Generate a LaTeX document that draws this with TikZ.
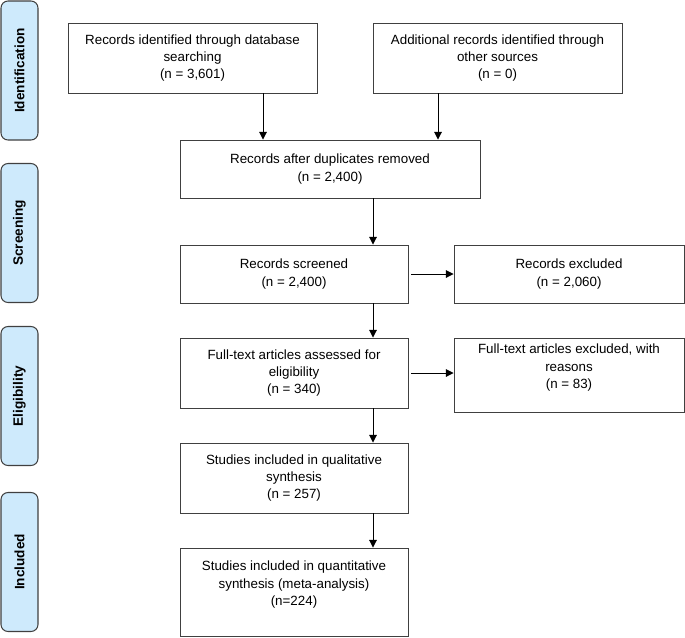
\documentclass[tikz,border=0pt]{standalone}
\usepackage{fontspec}
\setmainfont{Liberation Sans}
\usetikzlibrary{arrows.meta}

\definecolor{phasefill}{RGB}{206,234,252}
\definecolor{edgegray}{RGB}{64,64,64}

\begin{document}
\begin{tikzpicture}[x=0.03cm,y=-0.03cm,
	box/.style={draw=edgegray,line width=0.8pt,align=center,inner sep=0pt,
		font=\fontsize{11.4}{14.8}\selectfont},
	phase/.style={draw=edgegray,line width=0.9pt,fill=phasefill,rounded corners=6pt,
		rotate=90,minimum width=139*0.03cm,minimum height=37*0.03cm,inner sep=0pt,
		font=\fontsize{11.6}{14.5}\selectfont\bfseries},
	arr/.style={line width=0.8pt,-{Triangle[length=6.5pt,width=6.5pt]}}]
	
	\useasboundingbox (0,0) rectangle (685,637);
	
	% phases on the left
	\node[phase] (idn) at (19.5,70.5) {Identification};
	\node[phase] (scr) at (19.5,233) {Screening};
	\node[phase] (elg) at (19.5,396) {Eligibility};
	\node[phase] (inc) at (19.5,562) {Included};
	
	% boxes
	\node[box,minimum width=249*0.03cm,minimum height=70*0.03cm] (db) at (192.5,58)
		{Records identified through database\\searching\\(n = 3,601)};
	\node[box,minimum width=249*0.03cm,minimum height=70*0.03cm] (other) at (497.5,58)
		{Additional records identified through\\other sources\\(n = 0)};
	\node[box,minimum width=300*0.03cm,minimum height=58*0.03cm] (dup) at (330,169)
		{Records after duplicates removed\\(n = 2,400)};
	\node[box,minimum width=228*0.03cm,minimum height=58*0.03cm] (screened) at (294,274)
		{Records screened\\(n = 2,400)};
	\node[box,minimum width=230*0.03cm,minimum height=58*0.03cm] (excl) at (569,274)
		{Records excluded\\(n = 2,060)};
	\node[box,minimum width=228*0.03cm,minimum height=70*0.03cm] (fulltext) at (294,373)
		{Full-text articles assessed for\\eligibility\\(n = 340)};
	\node[box,minimum width=230*0.03cm,minimum height=74*0.03cm] (ftexcl) at (569,375)
		{Full-text articles excluded, with\\reasons\\(n = 83)\\\mbox{}};
	\node[box,minimum width=228*0.03cm,minimum height=70*0.03cm] (qual) at (294,478)
		{Studies included in qualitative\\synthesis\\(n = 257)};
	\node[box,minimum width=228*0.03cm,minimum height=88*0.03cm] (quant) at (294,592)
		{Studies included in quantitative\\synthesis (meta-analysis)\\(n=224)\\\mbox{}};
	
	% arrow columns
	\coordinate (c1) at (263,0);
	\coordinate (c2) at (438,0);
	\coordinate (c3) at (373,0);
	
	\draw[arr] (db.south -| c1) -- (dup.north -| c1);
	\draw[arr] (other.south -| c2) -- (dup.north -| c2);
	\draw[arr] (dup.south -| c3) -- (screened.north -| c3);
	\draw[arr] (screened.south -| c3) -- (fulltext.north -| c3);
	\draw[arr] (fulltext.south -| c3) -- (qual.north -| c3);
	\draw[arr] (qual.south -| c3) -- (quant.north -| c3);
	
	\draw[arr,shorten <=3*0.03cm] (screened.east) -- (excl.west);
	\draw[arr,shorten <=3*0.03cm] (fulltext.east) -- (fulltext.east -| ftexcl.west);
	
\end{tikzpicture}
\end{document}
